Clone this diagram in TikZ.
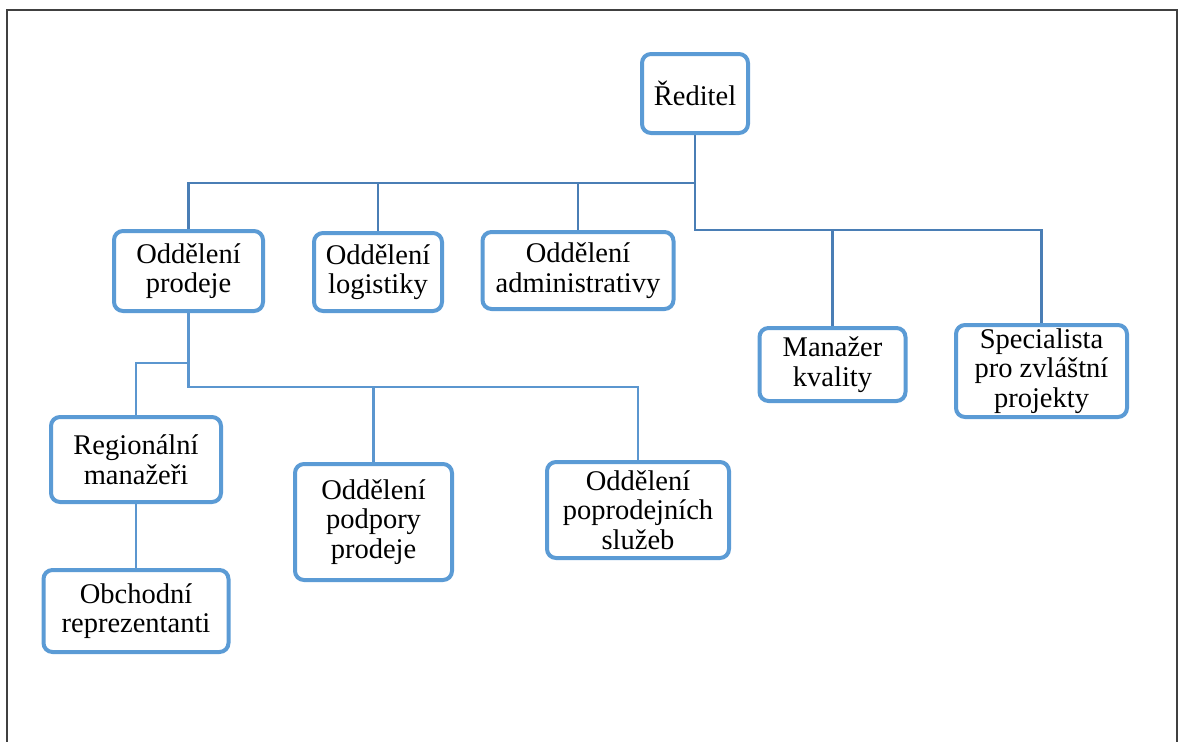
\documentclass[tikz,border=0pt]{standalone}
\usepackage{fontspec}
\setmainfont{Liberation Serif}
\usetikzlibrary{backgrounds}
\definecolor{boxblue}{HTML}{5B9BD5}
\definecolor{topline}{HTML}{4A7EB5}
\definecolor{lowline}{HTML}{5B96CF}
\definecolor{framegray}{HTML}{404040}
\tikzset{
  orgbox/.style={draw=boxblue, line width=4pt, rounded corners=9pt, fill=white,
    inner sep=0pt, align=center, font=\fontsize{28.5}{29.5}\selectfont},
  topconn/.style={draw=topline, line width=2.6pt},
  lowconn/.style={draw=lowline, line width=2.8pt}
}
\begin{document}
\begin{tikzpicture}[x=1pt,y=-1pt]
\useasboundingbox (0,0) rectangle (1179,742);
\draw[framegray, line width=2pt] (6.5,760) -- (6.5,9.5) -- (1177,9.5) -- (1177,760);

\node[orgbox, minimum width=106pt, minimum height=79pt] (ceo) at (695,93.5) {Ředitel};
\node[orgbox, minimum width=149pt, minimum height=80pt] (prodeje) at (188.5,271) {Oddělení\\prodeje};
\node[orgbox, minimum width=128pt, minimum height=78pt] (logist) at (378,272) {Oddělení\\logistiky};
\node[orgbox, minimum width=191pt, minimum height=77pt] (admin) at (578,270.5) {Oddělení\\administrativy};
\node[orgbox, minimum width=146pt, minimum height=73pt] (kval) at (832.5,364.5) {Manažer\\kvality};
\node[orgbox, minimum width=171pt, minimum height=92pt] (spec) at (1041.5,371) {Specialista\\pro zvláštní\\projekty};
\node[orgbox, minimum width=170pt, minimum height=85pt] (region) at (136,459.5) {Regionální\\manažeři};
\node[orgbox, minimum width=185pt, minimum height=82pt] (obch) at (136,611) {Obchodní\\reprezentanti};
\node[orgbox, minimum width=157pt, minimum height=116pt] (podp) at (373.5,522) {Oddělení\\podpory\\prodeje};
\node[orgbox, minimum width=182pt, minimum height=96pt] (sluz) at (638,510) {Oddělení\\poprodejních\\služeb};

\begin{scope}[on background layer]
\draw[topconn] (ceo.south) |- (prodeje.north |- 0,183) -- (prodeje.north);
\draw[topconn] (logist.north) -- (logist.north |- 0,183);
\draw[topconn] (admin.north) -- (admin.north |- 0,183);
\draw[topconn] (ceo.south) |- (spec.north |- 0,230) -- (spec.north);
\draw[topconn] (kval.north) -- (kval.north |- 0,230);
\draw[lowconn] (prodeje.south) |- (sluz.north |- 0,387) -- (sluz.north);
\draw[lowconn] (podp.north) -- (podp.north |- 0,387);
\draw[lowconn] (prodeje.south |- 0,363) -| (region.north);
\draw[lowconn] (region.south) -- (obch.north);
\end{scope}
\end{tikzpicture}
\end{document}
